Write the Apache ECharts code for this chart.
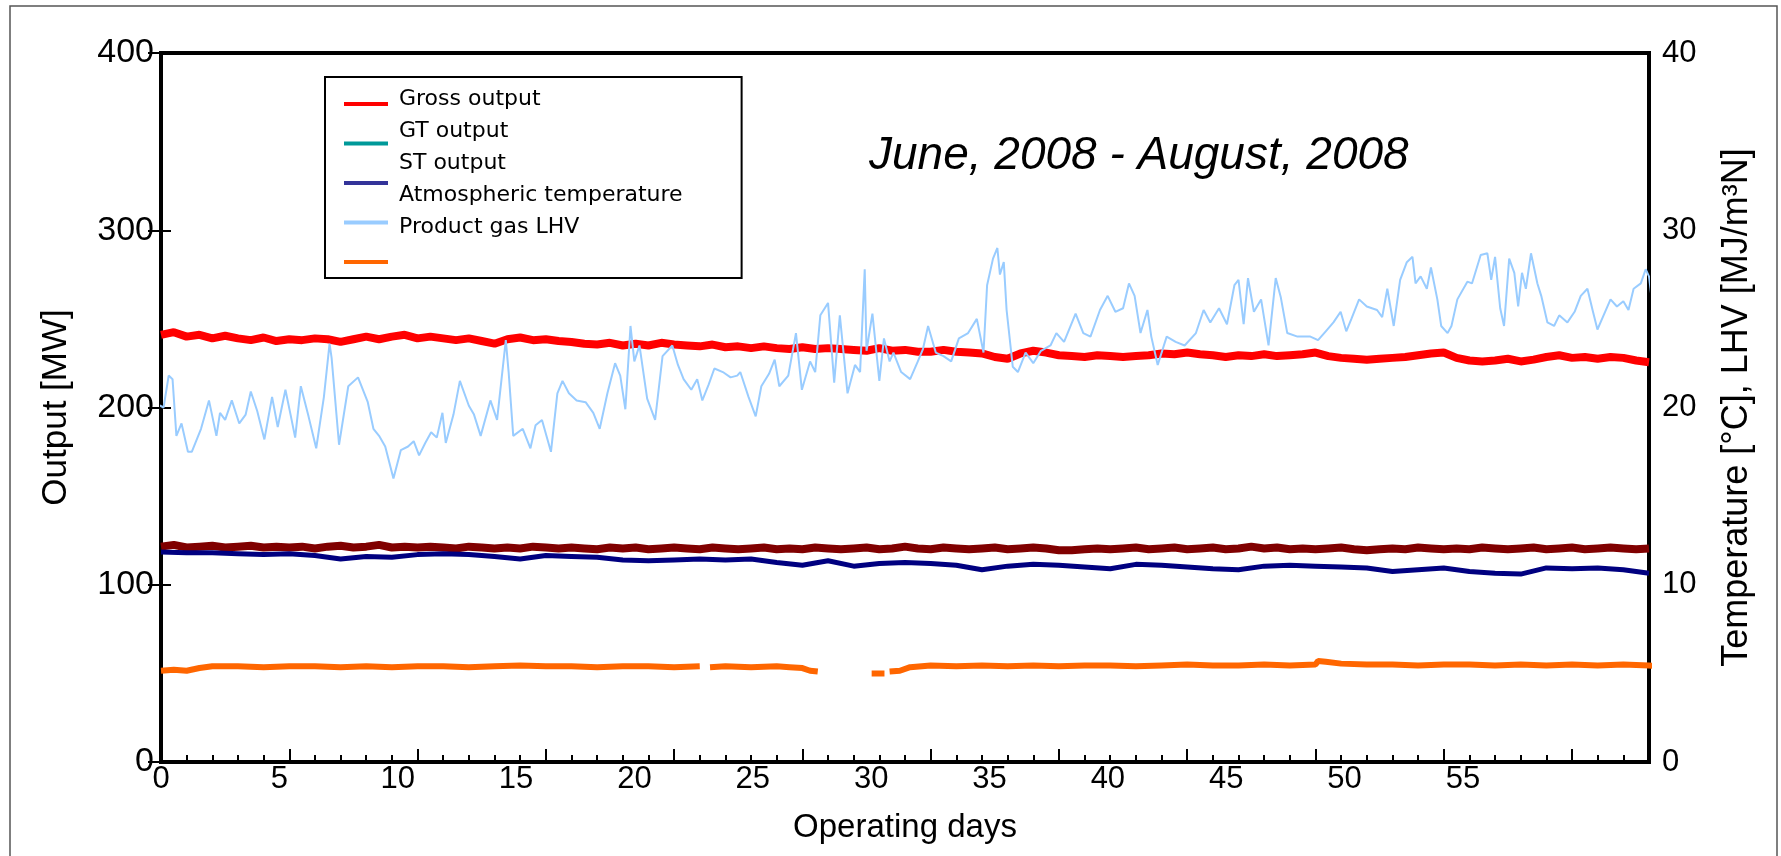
<!DOCTYPE html>
<html>
<head>
<meta charset="utf-8">
<script src="https://cdn.jsdelivr.net/npm/echarts@6.0.0/dist/echarts.min.js"></script>
<style>
  html, body { margin: 0; padding: 0; background: #fff; }
  #chart { width: 1781px; height: 856px; }
</style>
</head>
<body>
<div id="chart"></div>
<script>
// 运行天数（刻度轴 0-58 天）
const halfDay = 0.5
const fullDay = 1

// Gross output [MW]，每半天一个点
const grossOutput = [
  241, 242.5, 240, 241, 239, 240.5, 239, 238, 239.5, 237.5, 238.5,
  238, 239, 238.5, 237, 238.5, 240, 238.5, 240, 241, 239,
  240, 239, 238, 239, 237.5, 236, 238.5, 239.5, 238, 238.5,
  237.5, 237, 236, 235.5, 236.5, 235, 236, 235, 236.5, 235.5,
  235, 234.5, 235.5, 234, 234.5, 233.5, 234.5, 233.5, 233, 234,
  233, 233.5, 233, 232.5, 232, 233.5, 232, 232.5, 231.5, 231.5,
  232.5, 231.5, 231, 230.5, 228.5, 227.5, 230.5, 232, 231, 229.5,
  229, 228.5, 229.5, 229, 228.5, 229, 229.5, 230.5, 230, 231,
  230, 229.5, 228.5, 229.5, 229, 230, 229, 229.5, 230, 231,
  229, 228, 227.5, 227, 227.5, 228, 228.5, 229.5, 230.5, 231,
  228, 226.5, 226, 226.5, 227.5, 226, 227, 228.5, 229.5, 228,
  228.5, 227.5, 228.5, 228, 226.5, 225.5
]

// GT output [MW]，每半天一个点
const gtOutput = [
  121.5, 122.5, 121, 121.5, 122, 121, 121.5, 122, 121, 121.5, 121,
  121.5, 120.5, 121.5, 122, 121, 121.5, 122.5, 121, 121.5, 121,
  121.5, 121, 120.5, 121.5, 121, 120.5, 121, 120.5, 121.5, 121,
  120.5, 121, 120.5, 120, 121, 120.5, 121, 120, 120.5, 121,
  120.5, 120, 121, 120.5, 120, 120.5, 121, 120, 120.5, 120,
  121, 120.5, 120, 120.5, 121, 120, 120.5, 121.5, 120.5, 120,
  121, 120.5, 120, 120.5, 121, 120, 120.5, 121, 120.5, 119.5,
  119.5, 120, 120.5, 120, 120.5, 121, 120, 120.5, 121, 120,
  120.5, 121, 120, 120.5, 121.5, 120.5, 121, 120, 120.5, 120,
  120.5, 121, 120, 119.5, 120, 120.5, 120, 121, 120.5, 120,
  120.5, 120, 121, 120.5, 120, 120.5, 121, 120, 120.5, 121,
  120, 120.5, 121, 120.5, 120, 120.5
]

// ST output [MW]，每天一个点
const stOutput = [
  118.5, 118, 118, 117.5, 117, 117.5, 116.5, 114.5, 116, 115.5,
  117, 117.5, 117, 116, 114.5, 116.5, 116, 115.5, 114, 113.5,
  114, 114.5, 114, 114.5, 112.5, 111, 113.5, 110.5, 112, 112.5,
  112, 111, 108.5, 110.5, 111.5, 111, 110, 109, 111.5, 111,
  110, 109, 108.5, 110.5, 111, 110.5, 110, 109.5, 107.5, 108.5,
  109.5, 107.5, 106.5, 106, 109.5, 109, 109.5, 108.5, 106.5
]

// Atmospheric temperature [°C]
const tempDays = [
  -0.15, 0.1, 0.3, 0.45, 0.6, 0.8, 1.05, 1.2, 1.56, 1.87, 2.16, 2.3, 2.5, 2.76, 3.05, 3.3, 3.5, 3.75,
  4.03, 4.33, 4.55, 4.85, 5.05, 5.23, 5.45, 5.75, 6.05, 6.35, 6.57, 6.65, 6.94, 7.3, 7.68, 8.06,
  8.28, 8.5, 8.74, 9.06, 9.35, 9.63, 9.85, 10.06, 10.3, 10.53, 10.75, 10.97, 11.1, 11.4, 11.65,
  12.0, 12.2, 12.46, 12.84, 13.1, 13.44, 13.55, 13.73, 14.1, 14.4, 14.6, 14.85, 15.2, 15.45,
  15.65, 15.9, 16.2, 16.55, 16.85, 17.1, 17.4, 17.7, 17.9, 18.1, 18.3, 18.45, 18.65, 18.95,
  19.26, 19.55, 19.93, 20.15, 20.37, 20.67, 20.9, 21.1, 21.35, 21.57, 21.9, 22.2, 22.46, 22.58,
  22.9, 23.18, 23.4, 23.7, 23.92, 24.1, 24.45, 24.75, 24.98, 25.3, 25.5, 25.7, 26.0, 26.24,
  26.46, 26.76, 27.05, 27.25, 27.43, 27.5, 27.73, 28.0, 28.18, 28.4, 28.55, 28.85, 29.2, 29.5,
  29.7, 29.9, 30.2, 30.5, 30.8, 31.1, 31.46, 31.8, 32.06, 32.2, 32.43, 32.6, 32.7, 32.85, 32.96,
  33.2, 33.4, 33.7, 34.0, 34.3, 34.67, 34.9, 35.2, 35.65, 35.95, 36.23, 36.6, 36.9, 37.2, 37.5,
  37.73, 37.95, 38.18, 38.45, 38.6, 38.85, 39.2, 39.55, 39.9, 40.34, 40.64, 40.9, 41.24, 41.55,
  41.84, 42.0, 42.2, 42.37, 42.6, 42.88, 43.17, 43.45, 43.65, 43.9, 44.3, 44.8, 45.1, 45.4,
  45.7, 45.98, 46.2, 46.4, 46.7, 47.0, 47.4, 47.6, 47.8, 48.05, 48.3, 48.56, 48.78, 48.9, 49.1,
  49.34, 49.5, 49.75, 49.9, 50.15, 50.3, 50.53, 50.92, 51.1, 51.44, 51.7, 51.85, 52.0, 52.2,
  52.35, 52.55, 52.75, 52.9, 53.05, 53.2, 53.4, 53.65, 53.8, 54.04, 54.3, 54.5, 54.82, 55.1,
  55.34, 55.6, 55.8, 55.99, 56.2, 56.5, 56.75, 57.0, 57.2, 57.4, 57.68, 57.87, 58.0, 58.14, 58.33
]
const atmTemp = [
  20.2, 20.0, 21.8, 21.6, 18.4, 19.1, 17.5, 17.5, 18.8, 20.4, 18.4, 19.7, 19.3, 20.4, 19.1, 19.6, 20.9, 19.8,
  18.2, 20.6, 18.9, 21.0, 19.6, 18.3, 21.2, 19.5, 17.7, 20.6, 23.6, 22.8, 17.9, 21.2, 21.7, 20.3,
  18.8, 18.4, 17.8, 16.0, 17.6, 17.8, 18.1, 17.3, 18.0, 18.6, 18.3, 19.7, 18.0, 19.6, 21.5,
  20.1, 19.6, 18.4, 20.4, 19.3, 23.8, 22.0, 18.4, 18.8, 17.7, 19.0, 19.3, 17.5, 20.8,
  21.5, 20.8, 20.4, 20.3, 19.7, 18.8, 20.8, 22.5, 21.8, 19.9, 24.6, 22.6, 23.5, 20.5,
  19.3, 22.9, 23.5, 22.4, 21.6, 21.0, 21.6, 20.4, 21.3, 22.2, 22.0, 21.7, 21.8, 22.0,
  20.6, 19.5, 21.2, 21.9, 22.7, 21.2, 21.8, 24.2, 21.0, 22.6, 22.0, 25.2, 25.9, 21.4,
  25.2, 20.8, 22.4, 22.0, 27.8, 23.2, 25.3, 21.5, 23.9, 22.6, 23.1, 22.0, 21.6, 22.6,
  23.3, 24.6, 23.1, 22.9, 22.6, 23.9, 24.2, 25.0, 23.1, 26.9, 28.4, 29.0, 27.5, 28.2, 25.5,
  22.3, 22.0, 23.1, 22.5, 23.2, 23.5, 24.2, 23.7, 25.3, 24.2, 24.0, 25.5, 26.3, 25.4, 25.6,
  27.0, 26.3, 24.2, 25.5, 24.0, 22.4, 24.0, 23.7, 23.5, 24.2, 25.5, 24.8, 25.6, 24.7,
  26.9, 27.2, 24.7, 27.3, 25.4, 26.1, 23.5, 27.3, 26.2, 24.2, 24.0, 24.0, 23.8, 24.3,
  24.8, 25.4, 24.3, 25.0, 26.1, 25.7, 25.5, 25.1, 26.7, 24.6, 27.2, 28.2, 28.5, 27.0, 27.4,
  26.7, 27.9, 26.1, 24.6, 24.2, 24.6, 26.1, 27.1, 27.0, 28.6, 28.7, 27.2, 28.5, 25.6,
  24.6, 28.4, 27.6, 25.7, 27.6, 26.7, 28.7, 27.0, 26.3, 24.8, 24.6, 25.2, 24.8, 25.4,
  26.3, 26.7, 25.5, 24.4, 25.1, 26.1, 25.7, 26.0, 25.5, 26.7, 27.0, 27.8, 27.4, 25.7, 26.1
]

// Product gas LHV [MJ/m3N]，null 为缺测
const lhvDays = [
  0, 0.5, 1, 1.5, 2, 3, 4, 5, 6, 7, 8, 9, 10, 11, 12, 13, 14, 15, 16, 17, 18, 19, 20, 21, 21.2,
  21.4, 22, 23, 24, 24.5, 25, 25.3, 25.6, 26.5, 27.7, 28.2, 28.3, 28.4, 28.8, 29.2, 30, 31, 32,
  33, 34, 35, 36, 37, 38, 39, 40, 41, 42, 43, 44, 45, 45.1, 45.4, 46, 47, 48, 49, 50, 51, 52,
  53, 54, 55, 56, 57, 58, 58.3
]
const lhvValues = [
  5.15, 5.2, 5.15, 5.3, 5.4, 5.4, 5.35, 5.4, 5.4, 5.35, 5.4, 5.35, 5.4, 5.4, 5.35, 5.4, 5.45, 5.4, 5.4, 5.35, 5.4, 5.4, 5.35, 5.4, null,
  5.35, 5.4, 5.35, 5.4, 5.35, 5.3, 5.15, 5.1, null, 5.0, 5.0, null, 5.1, 5.15, 5.35, 5.45, 5.4, 5.45,
  5.4, 5.45, 5.4, 5.45, 5.45, 5.4, 5.45, 5.5, 5.45, 5.45, 5.5, 5.45, 5.5, 5.7, 5.65, 5.55, 5.5, 5.5, 5.45, 5.5, 5.5, 5.45,
  5.5, 5.45, 5.5, 5.45, 5.5, 5.45, 5.4
]

const seriesNames = ["Gross output", "GT output", "ST output", "Atmospheric temperature", "Product gas LHV"]

const chart = echarts.init(document.getElementById("chart"))

const pairs = (xs, ys) => ys.map((v, i) => [xs[i], v])
const stepPairs = (ys, step) => ys.map((v, i) => [i * step, v])

const axisFont = "Liberation Sans, Arial, sans-serif"

const option = {
  animation: false,
  backgroundColor: "#fff",
  title: {
    text: "June, 2008 - August, 2008",
    left: 869,
    top: 133,
    padding: 0,
    textStyle: {
      fontSize: 46,
      fontStyle: "italic",
      fontWeight: "normal",
      fontFamily: axisFont,
      color: "#000",
    },
  },
  graphic: [
    {
      type: "rect",
      shape: { x: 10, y: 6, width: 1767, height: 900 },
      style: { fill: "none", stroke: "#555", lineWidth: 1.5 },
      silent: true,
    },
  ],
  grid: {
    left: 161,
    right: 132,
    top: 53,
    bottom: 94,
    show: true,
    borderColor: "#000",
    borderWidth: 4,
  },
  legend: [
    {
      // 文字部分
      data: seriesNames,
      orient: "vertical",
      left: 325,
      top: 77,
      padding: [10, 59, 39, 25],
      itemWidth: 44,
      itemHeight: 4,
      itemGap: 8,
      icon: "rect",
      itemStyle: { color: "rgba(0,0,0,0)", borderWidth: 0 },
      borderColor: "#000",
      borderWidth: 2,
      textStyle: { fontSize: 22, lineHeight: 24, fontFamily: "DejaVu Sans", color: "#000" },
      selectedMode: false,
    },
    {
      // 图例线条部分
      data: [
        { name: "Gross output" },
        { name: "GT output", itemStyle: { color: "#009999" } },
        { name: "ST output", itemStyle: { color: "#333399" } },
        { name: "Atmospheric temperature", itemStyle: { color: "#99ccff" } },
        { name: "Product gas LHV", itemStyle: { color: "#ff6600" } },
      ],
      orient: "vertical",
      left: 344,
      top: 102,
      padding: 0,
      itemWidth: 44,
      itemHeight: 4,
      itemGap: 35.5,
      icon: "rect",
      formatter: () => "",
      textStyle: { fontSize: 4, lineHeight: 4 },
      selectedMode: false,
    },
  ],
  xAxis: [
    {
      // 日刻度
      type: "value",
      min: 0,
      max: 58,
      interval: 1,
      position: "bottom",
      axisLine: { show: true, lineStyle: { color: "#000", width: 4 } },
      axisTick: { show: true, inside: true, length: 7, lineStyle: { color: "#000", width: 2 } },
      axisLabel: { show: false },
      splitLine: { show: false },
    },
    {
      // 5天长刻度
      type: "value",
      min: 0,
      max: 58,
      interval: 5,
      position: "bottom",
      axisLine: { show: false },
      axisTick: { show: true, inside: true, length: 13, lineStyle: { color: "#000", width: 2 } },
      axisLabel: { show: false },
      splitLine: { show: false },
    },
    {
      // 标签
      type: "value",
      min: 0,
      max: 62.86,
      interval: 5,
      position: "bottom",
      axisLine: { show: false },
      axisTick: { show: false },
      splitLine: { show: false },
      axisLabel: {
        fontSize: 31,
        fontFamily: axisFont,
        color: "#000",
        margin: 2,
        formatter: (v) => (v <= 55 ? String(v) : ""),
      },
      name: "Operating days",
      nameLocation: "middle",
      nameGap: 49,
      nameTextStyle: { fontSize: 33, fontFamily: axisFont, color: "#000" },
    },
  ],
  yAxis: [
    {
      type: "value",
      min: 0,
      max: 400,
      interval: 100,
      position: "left",
      axisLine: { show: true, lineStyle: { color: "#000", width: 4 } },
      axisTick: { show: true, inside: true, length: 10, lineStyle: { color: "#000", width: 2 } },
      axisLabel: { fontSize: 34, fontFamily: axisFont, color: "#000", margin: 7 },
      splitLine: { show: false },
      name: "Output [MW]",
      nameLocation: "middle",
      nameGap: 87,
      nameTextStyle: { fontSize: 35, fontFamily: axisFont, color: "#000" },
    },
    {
      type: "value",
      min: 0,
      max: 40,
      interval: 10,
      position: "right",
      axisLine: { show: true, lineStyle: { color: "#000", width: 4 } },
      axisTick: { show: true, inside: true, length: 13, lineStyle: { color: "#000", width: 2 } },
      axisLabel: { fontSize: 31, fontFamily: axisFont, color: "#000", margin: 13 },
      splitLine: { show: false },
      name: "Temperature [°C], LHV [MJ/m³N]",
      nameLocation: "middle",
      nameGap: 70,
      nameTextStyle: { fontSize: 36, fontFamily: axisFont, color: "#000" },
    },
  ],
  series: [
    {
      name: "Gross output",
      type: "line",
      xAxisIndex: 0,
      yAxisIndex: 0,
      data: stepPairs(grossOutput, halfDay),
      symbol: "none",
      color: "#ff0000",
      lineStyle: { color: "#ff0000", width: 8 },
    },
    {
      name: "GT output",
      type: "line",
      xAxisIndex: 0,
      yAxisIndex: 0,
      data: stepPairs(gtOutput, halfDay),
      symbol: "none",
      color: "#800000",
      lineStyle: { color: "#800000", width: 8 },
    },
    {
      name: "ST output",
      type: "line",
      xAxisIndex: 0,
      yAxisIndex: 0,
      data: stepPairs(stOutput, fullDay),
      symbol: "none",
      color: "#000080",
      lineStyle: { color: "#000080", width: 5 },
    },
    {
      name: "Product gas LHV",
      type: "line",
      xAxisIndex: 0,
      yAxisIndex: 1,
      data: pairs(lhvDays, lhvValues),
      symbol: "none",
      clip: false,
      connectNulls: false,
      color: "#ff6600",
      lineStyle: { color: "#ff6600", width: 6 },
    },
    {
      name: "Atmospheric temperature",
      type: "line",
      xAxisIndex: 0,
      yAxisIndex: 1,
      data: pairs(tempDays, atmTemp),
      symbol: "none",
      clip: false,
      color: "#99ccff",
      lineStyle: { color: "#99ccff", width: 2 },
    },
  ],
}

chart.setOption(option)
</script>
</body>
</html>
